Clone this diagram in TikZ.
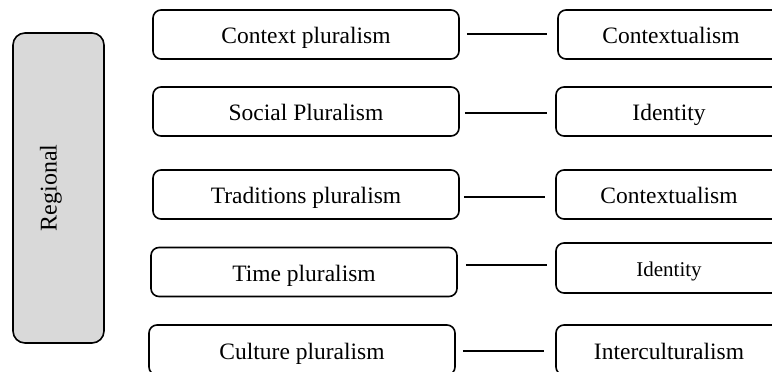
\documentclass[tikz,border=0pt]{standalone}
\usepackage{fontspec}
\setmainfont{Liberation Serif}
\begin{document}
\begin{tikzpicture}[x=1pt,y=-1pt,
  box/.style={draw=black,line width=1.6pt,rounded corners=8pt,inner sep=0pt,
    font=\fontsize{23.5}{28}\selectfont,anchor=center,text height=18pt,text depth=0pt},
  lbox/.style={box,minimum width=306pt,minimum height=49pt},
  rbox/.style={box,minimum width=226pt,minimum height=49pt},
  link/.style={draw=black,line width=1.6pt}]
\clip (0,0) rectangle (772,372);
\fill[white] (0,0) rectangle (772,372);
% Regional
\node[draw=black,line width=1.6pt,rounded corners=12pt,fill=black!15,
  minimum width=91pt,minimum height=310pt,inner sep=0pt] (reg) at (58.5,188) {};
\node[rotate=90,font=\fontsize{24}{28}\selectfont,inner sep=0pt] (regt) at (51,188) {Regional};
% left column
\node[lbox] (L1) at (306,34.5) {Context pluralism};
\node[lbox] (L2) at (306,111.5) {Social Pluralism};
\node[lbox] (L3) at (306,194.5) {Traditions pluralism};
\node[lbox] (L4) at (304,272) {Time pluralism};
\node[lbox,minimum height=50pt] (L5) at (302,350) {Culture pluralism};
% right column
\node[rbox] (R1) at (671,34.5) {Contextualism};
\node[rbox] (R2) at (669,111.5) {Identity};
\node[rbox] (R3) at (669,194.5) {Contextualism};
\node[rbox,font=\fontsize{21}{25}\selectfont,text height=16pt,minimum height=50pt] (R4) at (669,268) {Identity};
\node[rbox,minimum height=50pt] (R5) at (669,350) {Interculturalism};
% links
\draw[link] ([xshift=7pt,yshift=0.5pt]L1.east) -- ([xshift=-10pt,yshift=0.5pt]R1.west);
\draw[link] ([xshift=5pt,yshift=-1.5pt]L2.east) -- ([xshift=-8pt,yshift=-1.5pt]R2.west);
\draw[link] ([xshift=4pt,yshift=-2.5pt]L3.east) -- ([xshift=-10pt,yshift=-2.5pt]R3.west);
\draw[link] ([xshift=8pt,yshift=7pt]L4.east) -- ([xshift=-8pt,yshift=3pt]R4.west);
\draw[link] ([xshift=7pt,yshift=-1pt]L5.east) -- ([xshift=-11pt,yshift=-1pt]R5.west);
\end{tikzpicture}
\end{document}
